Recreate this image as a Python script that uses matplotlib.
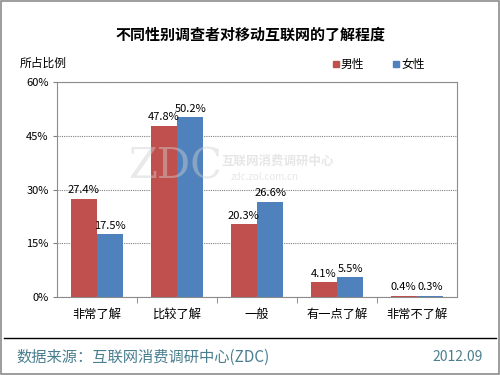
import numpy as np
import matplotlib.pyplot as plt
from matplotlib.patches import Rectangle
from matplotlib.lines import Line2D

plt.rcParams['font.family'] = ['Noto Sans CJK SC', 'DejaVu Sans']

# Data
categories = ["非常了解", "比较了解", "一般", "有一点了解", "非常不了解"]
male = [27.4, 47.8, 20.3, 4.1, 0.4]
female = [17.5, 50.2, 26.6, 5.5, 0.3]
yticks = [0, 15, 30, 45, 60]

red = "#C0504D"
blue = "#4F81BD"
teal = "#4A7F8F"

fig = plt.figure(figsize=(5, 3.75), dpi=100)
W, H = 500, 375

# outer frame
fig.add_artist(Rectangle((0.002, 0.002), 0.996, 0.995, transform=fig.transFigure,
                         fill=False, edgecolor="#8c8c8c", linewidth=1.2))

ax = fig.add_axes([57 / W, 1 - 297 / H, 400 / W, 215 / H])
x = np.arange(len(categories))
w = 0.33
ax.bar(x - w / 2, male, w, color=red, zorder=3)
ax.bar(x + w / 2, female, w, color=blue, zorder=3)

for i in range(len(categories)):
    ax.text(x[i] - w / 2, male[i] + 1, f"{male[i]}%", ha="center", va="bottom", fontsize=8, zorder=4)
    ax.text(x[i] + w / 2, female[i] + 1, f"{female[i]}%", ha="center", va="bottom", fontsize=8, zorder=4)

ax.set_xlim(-0.5, len(categories) - 0.5)
ax.set_ylim(0, 60)
ax.set_yticks(yticks)
ax.set_yticklabels([f"{v}%" for v in yticks], fontsize=8)
ax.yaxis.grid(True, linestyle=(0, (1, 1)), color="#808080", linewidth=0.8, zorder=0)
ax.set_xticks(x)
ax.set_xticklabels(categories, fontsize=8.8)
ax.tick_params(axis="x", length=0, pad=8)
ax.set_xticks(np.arange(0.5, len(categories) - 0.5, 1), minor=True)
ax.tick_params(axis="x", which="minor", length=4, color="#808080", direction="out")
ax.tick_params(axis="y", length=3, color="#808080", pad=3)
for s in ax.spines.values():
    s.set_color("#8c8c8c")
ax.spines["top"].set_linestyle((0, (1, 1)))

# watermark (faint, over the bars)
ax.text(0.98, 36.3, "ZDC", fontsize=30, color="#cfcfcf", family="DejaVu Serif",
        ha="center", va="center", zorder=5, alpha=0.45)
ax.text(2.26, 37.8, "互联网消费调研中心", fontsize=9, color="#cfcfcf", ha="center",
        va="center", zorder=5, fontweight="bold", alpha=0.5)
ax.text(2.1, 33.6, "zdc.zol.com.cn", fontsize=7, color="#cfcfcf", ha="center",
        va="center", zorder=5, alpha=0.5)

# title and labels
fig.text(0.5, 1 - 35 / H, "不同性别调查者对移动互联网的了解程度", ha="center", va="center",
         fontsize=10.8, fontweight="bold")
fig.text(20 / W, 1 - 63 / H, "所占比例", ha="left", va="center", fontsize=8.5)

# legend
fig.add_artist(Rectangle((333 / W, 1 - 67 / H), 6 / W, 6 / H, transform=fig.transFigure,
                         color=red))
fig.text(341 / W, 1 - 64 / H, "男性", ha="left", va="center", fontsize=8.5)
fig.add_artist(Rectangle((393 / W, 1 - 67 / H), 6 / W, 6 / H, transform=fig.transFigure,
                         color=blue))
fig.text(401 / W, 1 - 64 / H, "女性", ha="left", va="center", fontsize=8.5)

# footer
fig.add_artist(Line2D([4 / W, 496 / W], [1 - 338 / H, 1 - 338 / H], transform=fig.transFigure,
                      color="black", linewidth=1))
fig.text(16 / W, 1 - 357 / H, "数据来源：互联网消费调研中心(ZDC)", ha="left", va="center",
         fontsize=11, color=teal)
fig.text(483 / W, 1 - 357 / H, "2012.09", ha="right", va="center", fontsize=10, color=teal)

fig.savefig("out.png", dpi=100)
